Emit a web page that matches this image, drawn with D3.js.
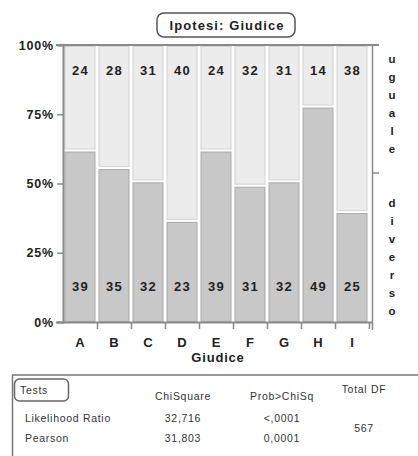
<!DOCTYPE html>
<html><head><meta charset="utf-8">
<script src="https://cdn.jsdelivr.net/npm/d3@7"></script>
<style>
html,body{margin:0;padding:0;background:#fff;}
svg{display:block;}
text{font-family:"Liberation Sans",Arial,sans-serif;}
</style></head>
<body>
<svg id="c" width="418" height="456"></svg>
<script>
const categories = ["A","B","C","D","E","F","G","H","I"];
const uguale  = [24,28,31,40,24,32,31,14,38];
const diverso = [39,35,32,23,39,31,32,49,25];
const yTicks = [0,0.25,0.5,0.75,1];
const yTickLabels = ["0%","25%","50%","75%","100%"];
const levels = ["uguale","diverso"];
const title = "Ipotesi: Giudice";
const xTitle = "Giudice";
const testHeaders = ["ChiSquare","Prob>ChiSq","Total DF"];
const testRows = ["Likelihood Ratio","Pearson"];
const chiSquare = ["32,716","31,803"];
const probChi = ["<,0001","0,0001"];
const totalDF = "567";

const svg = d3.select("#c");
const L=63, R=369, T=45, B=322;
const totals = categories.map((c,i)=>uguale[i]+diverso[i]);
const grand = d3.sum(totals);
const cum = [0]; totals.forEach(t=>cum.push(cum[cum.length-1]+t));
const x = d3.scaleLinear().domain([0,grand]).range([L,R]);
const y = d3.scaleLinear().domain([0,1]).range([B,T]);

const bold = (sel,size,ls)=>sel.attr("font-size",size).attr("font-weight","bold").attr("fill","#222").attr("letter-spacing",ls);

// bars
const lightFill="#ececec", darkFill="#c8c8c8", edge="#aaaaaa";
categories.forEach((c,i)=>{
  const x0=x(cum[i])+1.5, x1=x(cum[i+1])-1.5;
  const pd = diverso[i]/totals[i];
  svg.append("rect").attr("x",x0+0.5).attr("y",y(pd)+1.5)
    .attr("width",x1-x0-1).attr("height",B-y(pd)-2)
    .attr("fill",darkFill).attr("stroke",edge).attr("stroke-width",1);
  svg.append("rect").attr("x",x0+0.5).attr("y",T+1.5)
    .attr("width",x1-x0-1).attr("height",y(pd)-T-3)
    .attr("fill",lightFill).attr("stroke","#d2d2d2").attr("stroke-width",1);
  const cx=(x(cum[i])+x(cum[i+1]))/2;
  bold(svg.append("text").attr("x",cx+0.5).attr("y",75).attr("text-anchor","middle"),13,1.2).text(uguale[i]);
  bold(svg.append("text").attr("x",cx+0.5).attr("y",291).attr("text-anchor","middle"),13,1.2).text(diverso[i]);
});

// frame
const fc="#8a8a8a";
svg.append("line").attr("x1",56).attr("x2",379).attr("y1",T).attr("y2",T).attr("stroke",fc).attr("stroke-width",2);
svg.append("line").attr("x1",372.5).attr("x2",372.5).attr("y1",T).attr("y2",B+8).attr("stroke",fc).attr("stroke-width",1.5);

// left axis
const yAxis = d3.axisLeft(y).tickValues(yTicks).tickFormat((d,i)=>yTickLabels[i]).tickSize(6).tickPadding(3);
const ga = svg.append("g").attr("transform",`translate(${L},0)`).call(yAxis);
ga.select(".domain").attr("stroke",fc).attr("stroke-width",2);
ga.selectAll(".tick line").attr("stroke",fc).attr("stroke-width",1.5);
ga.selectAll(".tick text").attr("font-size",12.5).attr("font-weight","bold").attr("fill","#222")
  .attr("letter-spacing",0.8).attr("font-family","'Liberation Sans',Arial,sans-serif");

// bottom axis: boundary ticks + labels
const gb = svg.append("g").attr("transform",`translate(0,${B})`)
  .call(d3.axisBottom(x).tickValues(cum.slice(1)).tickFormat("").tickSize(7).tickSizeOuter(0));
gb.select(".domain").attr("stroke",fc).attr("stroke-width",2).attr("d",`M56,0.5H${R+3}`);
gb.selectAll(".tick line").attr("stroke",fc).attr("stroke-width",1.5);
categories.forEach((c,i)=>{
  bold(svg.append("text").attr("x",(x(cum[i])+x(cum[i+1]))/2).attr("y",347).attr("text-anchor","middle"),13,0).text(c);
});
bold(svg.append("text").attr("x",(L+R)/2+2).attr("y",362).attr("text-anchor","middle"),13,0.8).text(xTitle);

// right margin
const sumD = d3.sum(diverso);
const pD = sumD/grand;
svg.append("line").attr("x1",372).attr("x2",379).attr("y1",y(pD)).attr("y2",y(pD)).attr("stroke",fc).attr("stroke-width",1.5);
const segs = [{lab:levels[0],a:1,b:pD,off:-5},{lab:levels[1],a:pD,b:0,off:10}];
segs.forEach(s=>{
  const letters = s.lab.split("");
  const mid = (y(s.a)+y(s.b))/2 + s.off;
  const step=18;
  letters.forEach((ch,j)=>{
    bold(svg.append("text").attr("x",392).attr("y",mid+(j-(letters.length-1)/2)*step+4)
      .attr("text-anchor","middle"),11.5,0).text(ch);
  });
});

// title box
svg.append("rect").attr("x",157).attr("y",13).attr("width",138).attr("height",24).attr("rx",7)
  .attr("fill","#fff").attr("stroke","#555").attr("stroke-width",1.5);
bold(svg.append("text").attr("x",227).attr("y",30).attr("text-anchor","middle"),13,1.1).text(title);

// tests table
const tf = (sel)=>sel.attr("font-size",10.5).attr("fill","#333").attr("letter-spacing",0.7);
svg.append("rect").attr("x",12.5).attr("y",375).attr("width",420).attr("height",100)
  .attr("fill","#fff").attr("stroke","#777").attr("stroke-width",1.5);
svg.append("rect").attr("x",14.5).attr("y",379).attr("width",54).attr("height",22).attr("rx",5)
  .attr("fill","#fff").attr("stroke","#666").attr("stroke-width",1.5);
tf(svg.append("text").attr("x",20).attr("y",394)).text("Tests");
const hx=[183,282,364], hy=[400,400,393];
testHeaders.forEach((h,i)=>tf(svg.append("text").attr("x",hx[i]).attr("y",hy[i]).attr("text-anchor","middle")).text(h));
testRows.forEach((r,i)=>{
  const yy = 422+i*20;
  tf(svg.append("text").attr("x",25).attr("y",yy)).text(r);
  tf(svg.append("text").attr("x",hx[0]).attr("y",yy).attr("text-anchor","middle")).text(chiSquare[i]);
  tf(svg.append("text").attr("x",hx[1]).attr("y",yy).attr("text-anchor","middle")).text(probChi[i]);
});
tf(svg.append("text").attr("x",hx[2]).attr("y",432).attr("text-anchor","middle")).text(totalDF);
</script>
</body></html>
